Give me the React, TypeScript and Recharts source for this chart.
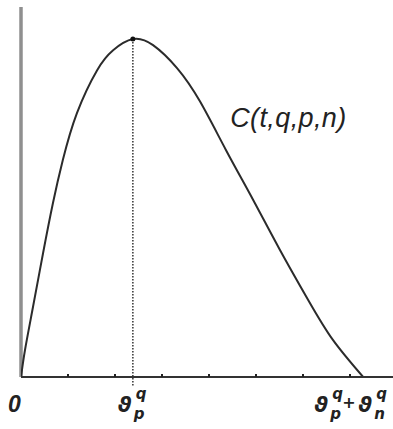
import { LineChart, Line, XAxis, YAxis, ReferenceLine, ReferenceDot } from 'recharts';

// time axis in tick units, curve value as % of the peak
const T = [0, 0.085, 0.255, 0.47, 0.68, 0.89, 1.19, 1.62, 1.96, 2.38, 2.81, 3.32, 3.81, 4.36, 4.94, 5.51, 6.11, 6.64, 7.28];
const C = [0, 8, 20.7, 36.7, 51.5, 64.2, 78.1, 90.8, 96.7, 100, 98.2, 91.4, 81.5, 67.2, 52.4, 37.6, 22.8, 10.9, 0];

const PEAK_T = 2.38; // theta_p^q
const END_T = 7.28; // theta_p^q + theta_n^q
const MINOR_TICKS = [1, 2, 3, 4, 5, 6, 7];
const CURVE_LABEL = 'C(t,q,p,n)';

const data = T.map((t, i) => ({ t, c: C[i] }));

const thetaFont = {
  fontFamily: '"DejaVu Sans", sans-serif',
  fontStyle: 'italic' as const,
  fontWeight: 600,
  fill: '#222',
};

function Tick(props: any) {
  const { x, y, payload } = props;
  const v = payload.value;
  if (v === 0) {
    return (
      <text x={x - 13} y={y + 35} fontFamily="'Liberation Sans', Arial, sans-serif" fontStyle="italic" fontWeight="bold" fontSize={23} fill="#222">
        0
      </text>
    );
  }
  if (v === PEAK_T) {
    return (
      <g>
        <text x={x - 15} y={y + 35} fontSize={21} {...thetaFont}>ϑ</text>
        <text x={x + 3} y={y + 22} fontSize={15} {...thetaFont}>q</text>
        <text x={x + 1} y={y + 42} fontSize={15} {...thetaFont}>p</text>
      </g>
    );
  }
  if (v === END_T) {
    return (
      <g>
        <text x={x - 49} y={y + 35} fontSize={21} {...thetaFont}>ϑ</text>
        <text x={x - 31} y={y + 22} fontSize={15} {...thetaFont}>q</text>
        <text x={x - 33} y={y + 42} fontSize={15} {...thetaFont}>p</text>
        <text x={x - 21} y={y + 31} fontSize={16} {...thetaFont} fontStyle="normal">+</text>
        <text x={x - 5} y={y + 35} fontSize={21} {...thetaFont}>ϑ</text>
        <text x={x + 13} y={y + 22} fontSize={15} {...thetaFont}>q</text>
        <text x={x + 11} y={y + 42} fontSize={15} {...thetaFont}>n</text>
      </g>
    );
  }
  return <line x1={x} x2={x} y1={y - 3} y2={y} stroke="#222" strokeWidth={2} />;
}

function CurveLabel(props: any) {
  const { viewBox } = props;
  return (
    <text x={viewBox.x} y={viewBox.y} fontFamily="'Liberation Sans', Arial, sans-serif" fontStyle="italic" fontSize={27} letterSpacing={0.4} fill="#222">
      {CURVE_LABEL}
    </text>
  );
}

export default function App() {
  return (
    <div style={{ position: 'absolute', left: 0, top: 0, width: 393, height: 429, overflow: 'hidden', background: '#fff' }}>
      <LineChart width={397} height={429} data={data} margin={{ top: 7, right: 0, left: 21, bottom: 0 }}>
        <XAxis
          dataKey="t"
          type="number"
          domain={[0, 8]}
          ticks={[0, ...MINOR_TICKS, PEAK_T, END_T]}
          interval={0}
          height={52}
          tickSize={0}
          tickMargin={0}
          tickLine={false}
          tick={<Tick />}
          axisLine={{ stroke: '#333', strokeWidth: 2 }}
          allowDataOverflow
        />
        <YAxis domain={[0, 109.5]} width={0} hide allowDataOverflow />
        <ReferenceLine x={0} stroke="#8f8f8f" strokeWidth={3.5} ifOverflow="visible" />
        <ReferenceLine
          segment={[{ x: PEAK_T, y: -2.5 }, { x: PEAK_T, y: 100 }]}
          stroke="#333"
          strokeWidth={1.5}
          strokeDasharray="1.5 1.5"
          ifOverflow="visible"
        />
        <Line
          type="natural"
          dataKey="c"
          stroke="#2b2b2b"
          strokeWidth={2}
          dot={false}
          isAnimationActive={false}
        />
        <ReferenceDot x={PEAK_T} y={100} r={2.5} fill="#111" stroke="none" />
        <ReferenceDot x={4.45} y={74} r={0} fill="none" stroke="none" label={<CurveLabel />} />
      </LineChart>
    </div>
  );
}
